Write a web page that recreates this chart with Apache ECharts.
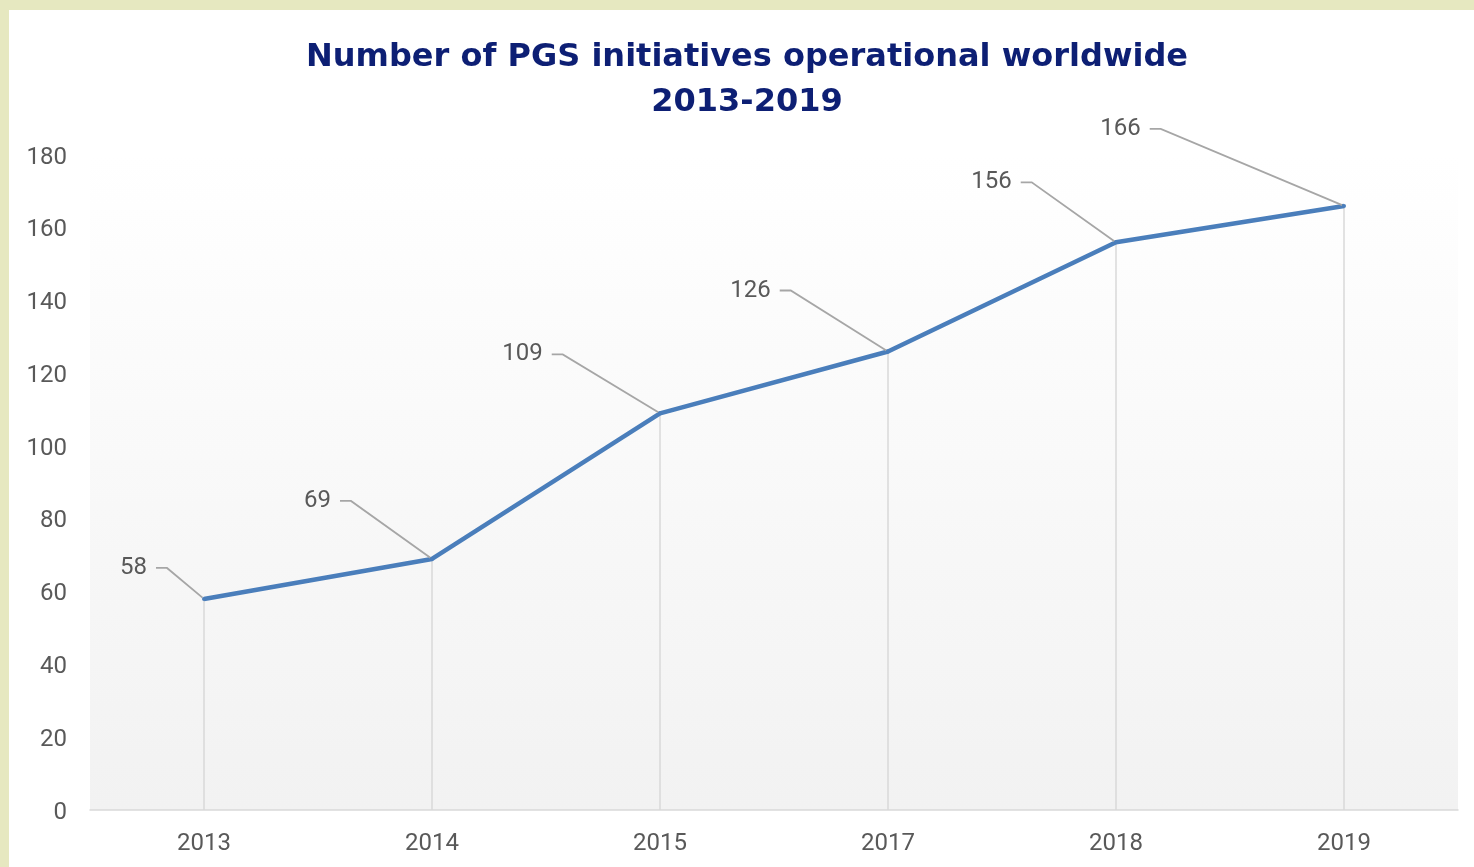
<!DOCTYPE html>
<html>
<head>
<meta charset="utf-8">
<script src="https://cdn.jsdelivr.net/npm/echarts@6/dist/echarts.min.js"></script>
<style>
  html, body { margin: 0; padding: 0; width: 1474px; height: 867px; overflow: hidden; background: #e6e8c0; }
  #chart { position: absolute; left: 9px; top: 10px; width: 1465px; height: 857px; background: #ffffff; }
</style>
</head>
<body>
<div id="chart"></div>
<script>
const categories = ['2013', '2014', '2015', '2017', '2018', '2019'];
const initiatives = [58, 69, 109, 126, 156, 166];
const yTicks = { min: 0, max: 180, interval: 20 };
const titleLines = ['Number of PGS initiatives operational worldwide', '2013-2019'];
// label displacement (px) from each point
const labelShift = [[-66, -31], [-110, -58], [-133, -59], [-133, -61], [-120, -60], [-219, -77]];

const chart = echarts.init(document.getElementById('chart'), null, { renderer: 'canvas' });
chart.setOption({
  animation: false,
  graphic: [{
    type: 'text',
    x: 738,
    y: 25,
    silent: true,
    style: {
      text: titleLines.join('\n'),
      textAlign: 'center',
      textVerticalAlign: 'top',
      fontFamily: 'DejaVu Sans',
      fontWeight: 'bold',
      fontSize: 32,
      lineHeight: 45,
      fill: '#0d1f74'
    }
  }],
  grid: {
    left: 81, right: 16, top: 145, bottom: 57,
    show: true,
    borderWidth: 0,
    backgroundColor: new echarts.graphic.LinearGradient(0, 0, 0, 1, [
      { offset: 0, color: '#ffffff' },
      { offset: 1, color: '#f2f2f2' }
    ])
  },
  xAxis: {
    type: 'category',
    data: categories,
    boundaryGap: true,
    axisLine: { show: true, lineStyle: { color: '#d9d9d9', width: 1.5 } },
    axisTick: { show: false },
    axisLabel: { color: '#595959', fontFamily: 'Roboto', fontSize: 24, margin: 22 },
    splitLine: { show: false }
  },
  yAxis: {
    type: 'value',
    min: yTicks.min, max: yTicks.max, interval: yTicks.interval,
    axisLine: { show: false },
    axisTick: { show: false },
    splitLine: { show: false },
    axisLabel: {
      margin: 23,
      formatter: function (v) { return '{t|' + v + '}'; },
      rich: {
        t: { color: '#595959', fontFamily: 'Roboto', fontSize: 24, padding: [5, 0, 0, 0] }
      }
    }
  },
  series: [
    {
      type: 'bar',
      data: initiatives,
      barWidth: 1.5,
      silent: true,
      z: 1,
      itemStyle: { color: '#d9d9d9' }
    },
    {
      type: 'line',
      data: initiatives,
      z: 3,
      symbol: 'circle',
      symbolSize: 4,
      showSymbol: true,
      lineStyle: { color: '#4a7ebb', width: 4.5 },
      itemStyle: { color: '#4a7ebb' },
      label: {
        show: true,
        position: 'inside',
        color: '#595959',
        fontFamily: 'Roboto',
        fontSize: 24,
        padding: [4, 9, 0, 0],
        backgroundColor: 'rgba(0,0,0,0)'
      },
      labelLine: {
        show: true,
        length2: 11,
        minTurnAngle: 0,
        lineStyle: { color: '#a6a6a6', width: 1.8 }
      },
      labelLayout: function (p) {
        const s = labelShift[p.dataIndex];
        return { dx: s[0], dy: s[1] };
      }
    }
  ]
});
</script>
</body>
</html>
